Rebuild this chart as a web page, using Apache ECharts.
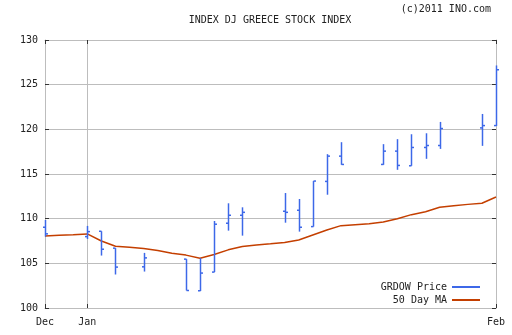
<!DOCTYPE html>
<html>
<head>
<meta charset="utf-8">
<script src="https://cdn.jsdelivr.net/npm/echarts@6/dist/echarts.min.js"></script>
<style>
  html, body { margin: 0; padding: 0; background: #fff; }
  #chart { width: 512px; height: 335px; }
</style>
</head>
<body>
<div id="chart"></div>
<script>
// Calendar days shown on the x axis (Dec 31, 2010 .. Feb 1, 2011)
const days = [
  '2010-12-31',
  '2011-01-01','2011-01-02','2011-01-03','2011-01-04','2011-01-05','2011-01-06','2011-01-07',
  '2011-01-08','2011-01-09','2011-01-10','2011-01-11','2011-01-12','2011-01-13','2011-01-14',
  '2011-01-15','2011-01-16','2011-01-17','2011-01-18','2011-01-19','2011-01-20','2011-01-21',
  '2011-01-22','2011-01-23','2011-01-24','2011-01-25','2011-01-26','2011-01-27','2011-01-28',
  '2011-01-29','2011-01-30','2011-01-31','2011-02-01'
];

// Month tick labels, keyed by day
const monthTicks = { '2010-12-31': 'Dec', '2011-01-03': 'Jan', '2011-02-01': 'Feb' };

// Daily price bars (GRDOW)
const tradeDays = [
  '2010-12-31','2011-01-03','2011-01-04','2011-01-05','2011-01-07',
  '2011-01-10','2011-01-11','2011-01-12','2011-01-13','2011-01-14',
  '2011-01-17','2011-01-18','2011-01-19','2011-01-20','2011-01-21',
  '2011-01-24','2011-01-25','2011-01-26','2011-01-27','2011-01-28',
  '2011-01-31','2011-02-01'
];
const openPx  = [109.04,107.99,108.59,106.70,104.61,105.47,101.93,104.02,109.49,110.38,110.83,110.94,109.11,114.17,117.00,116.07,117.56,115.92,117.97,118.19,120.16,120.42];
const highPx  = [109.85,109.19,108.59,106.70,106.17,105.47,105.58,109.74,111.72,111.27,112.87,112.20,114.21,117.22,118.56,118.34,118.90,119.45,119.56,120.83,121.72,127.15];
const lowPx   = [107.99,107.73,105.87,103.75,104.08,101.96,101.90,104.02,108.66,108.10,109.55,108.55,109.11,112.68,116.03,116.03,115.47,115.92,116.70,117.81,118.15,120.38];
const closePx = [108.30,108.55,106.58,104.58,105.61,101.96,103.91,109.38,110.38,110.71,110.71,109.04,114.21,117.00,116.07,117.56,115.96,117.97,118.19,120.09,120.42,126.67];

// 50 day moving average, one value per calendar day
const ma50 = [108.07,108.15,108.20,108.29,107.50,106.92,106.81,106.65,106.43,106.13,105.92,105.58,105.98,106.51,106.88,107.06,107.18,107.32,107.62,108.18,108.74,109.22,109.33,109.44,109.63,110.00,110.45,110.78,111.27,111.45,111.60,111.72,112.42];

const FONT = 'DejaVu Sans Mono';
const GRID = '#bdbdbd';
const TICK = '#333333';
const BLUE = '#3d68e8';
const RUST = '#c43f00';

const isMonthTick = (i) => monthTicks[days[i]] !== undefined;

const bars = tradeDays.map((d, i) => [d, openPx[i], closePx[i], lowPx[i], highPx[i]]);

function renderBar(params, api) {
  const xi = api.value(0);
  const top = api.coord([xi, api.value(4)]);
  const bot = api.coord([xi, api.value(3)]);
  const o = api.coord([xi, api.value(1)]);
  const c = api.coord([xi, api.value(2)]);
  const x = Math.round(top[0]) + 0.5;
  const st = { stroke: BLUE, lineWidth: 1.5 };
  return {
    type: 'group',
    children: [
      { type: 'line', shape: { x1: x, y1: top[1], x2: x, y2: bot[1] }, style: st },
      { type: 'line', shape: { x1: x - 2.5, y1: o[1], x2: x, y2: o[1] }, style: st },
      { type: 'line', shape: { x1: x, y1: c[1], x2: x + 2.5, y2: c[1] }, style: st }
    ]
  };
}

const chart = echarts.init(document.getElementById('chart'), null, { renderer: 'canvas' });

const xBase = {
  type: 'category',
  data: days,
  boundaryGap: false,
  axisLine: { show: true, lineStyle: { color: GRID, width: 1 } },
  axisTick: { show: true, inside: true, length: 4, interval: (i) => isMonthTick(i), lineStyle: { color: TICK } }
};
const yBase = {
  type: 'value',
  min: 100, max: 130, interval: 5,
  axisLine: { show: true, lineStyle: { color: GRID, width: 1 } },
  axisTick: { show: true, inside: true, length: 4, lineStyle: { color: TICK } }
};

chart.setOption({
  animation: false,
  backgroundColor: '#ffffff',
  grid: { left: 45, right: 16, top: 40, bottom: 27 },
  graphic: [
    { type: 'text', x: 270, y: 20, style: { text: 'INDEX DJ GREECE STOCK INDEX', font: '10px "' + FONT + '"', fill: '#222', textAlign: 'center', textVerticalAlign: 'middle' } },
    { type: 'text', x: 491, y: 9, style: { text: '(c)2011 INO.com', font: '10px "' + FONT + '"', fill: '#222', textAlign: 'right', textVerticalAlign: 'middle' } }
  ],
  legend: {
    orient: 'vertical',
    right: 27,
    top: 276,
    align: 'right',
    itemWidth: 28,
    itemHeight: 2,
    itemGap: 1,
    selectedMode: false,
    textStyle: { fontFamily: FONT, fontSize: 10, color: '#222', lineHeight: 12 },
    data: [
      { name: 'GRDOW Price', icon: 'rect' },
      { name: '50 Day MA', icon: 'rect' }
    ]
  },
  xAxis: [
    Object.assign({}, xBase, {
      position: 'bottom',
      axisLabel: {
        show: true, margin: 9, interval: (i) => isMonthTick(i),
        formatter: (v) => monthTicks[v] || '',
        fontFamily: FONT, fontSize: 10, color: '#222'
      },
      splitLine: { show: true, interval: (i) => isMonthTick(i), lineStyle: { color: GRID, width: 1 } }
    }),
    Object.assign({}, xBase, {
      position: 'top',
      axisLabel: { show: false },
      splitLine: { show: false }
    })
  ],
  yAxis: [
    Object.assign({}, yBase, {
      position: 'left',
      axisLabel: { show: true, margin: 7, fontFamily: FONT, fontSize: 10, color: '#222' },
      splitLine: { show: true, lineStyle: { color: GRID, width: 1 } }
    }),
    Object.assign({}, yBase, {
      position: 'right',
      axisLabel: { show: false },
      splitLine: { show: false }
    })
  ],
  series: [
    {
      name: 'GRDOW Price',
      type: 'custom',
      xAxisIndex: 0, yAxisIndex: 0,
      renderItem: renderBar,
      encode: { x: 0, y: [1, 2, 3, 4] },
      itemStyle: { color: BLUE },
      data: bars,
      z: 3
    },
    {
      name: '50 Day MA',
      type: 'line',
      xAxisIndex: 0, yAxisIndex: 0,
      data: ma50,
      symbol: 'none',
      itemStyle: { color: RUST },
      lineStyle: { color: RUST, width: 1.5 },
      z: 2
    }
  ]
});
</script>
</body>
</html>
